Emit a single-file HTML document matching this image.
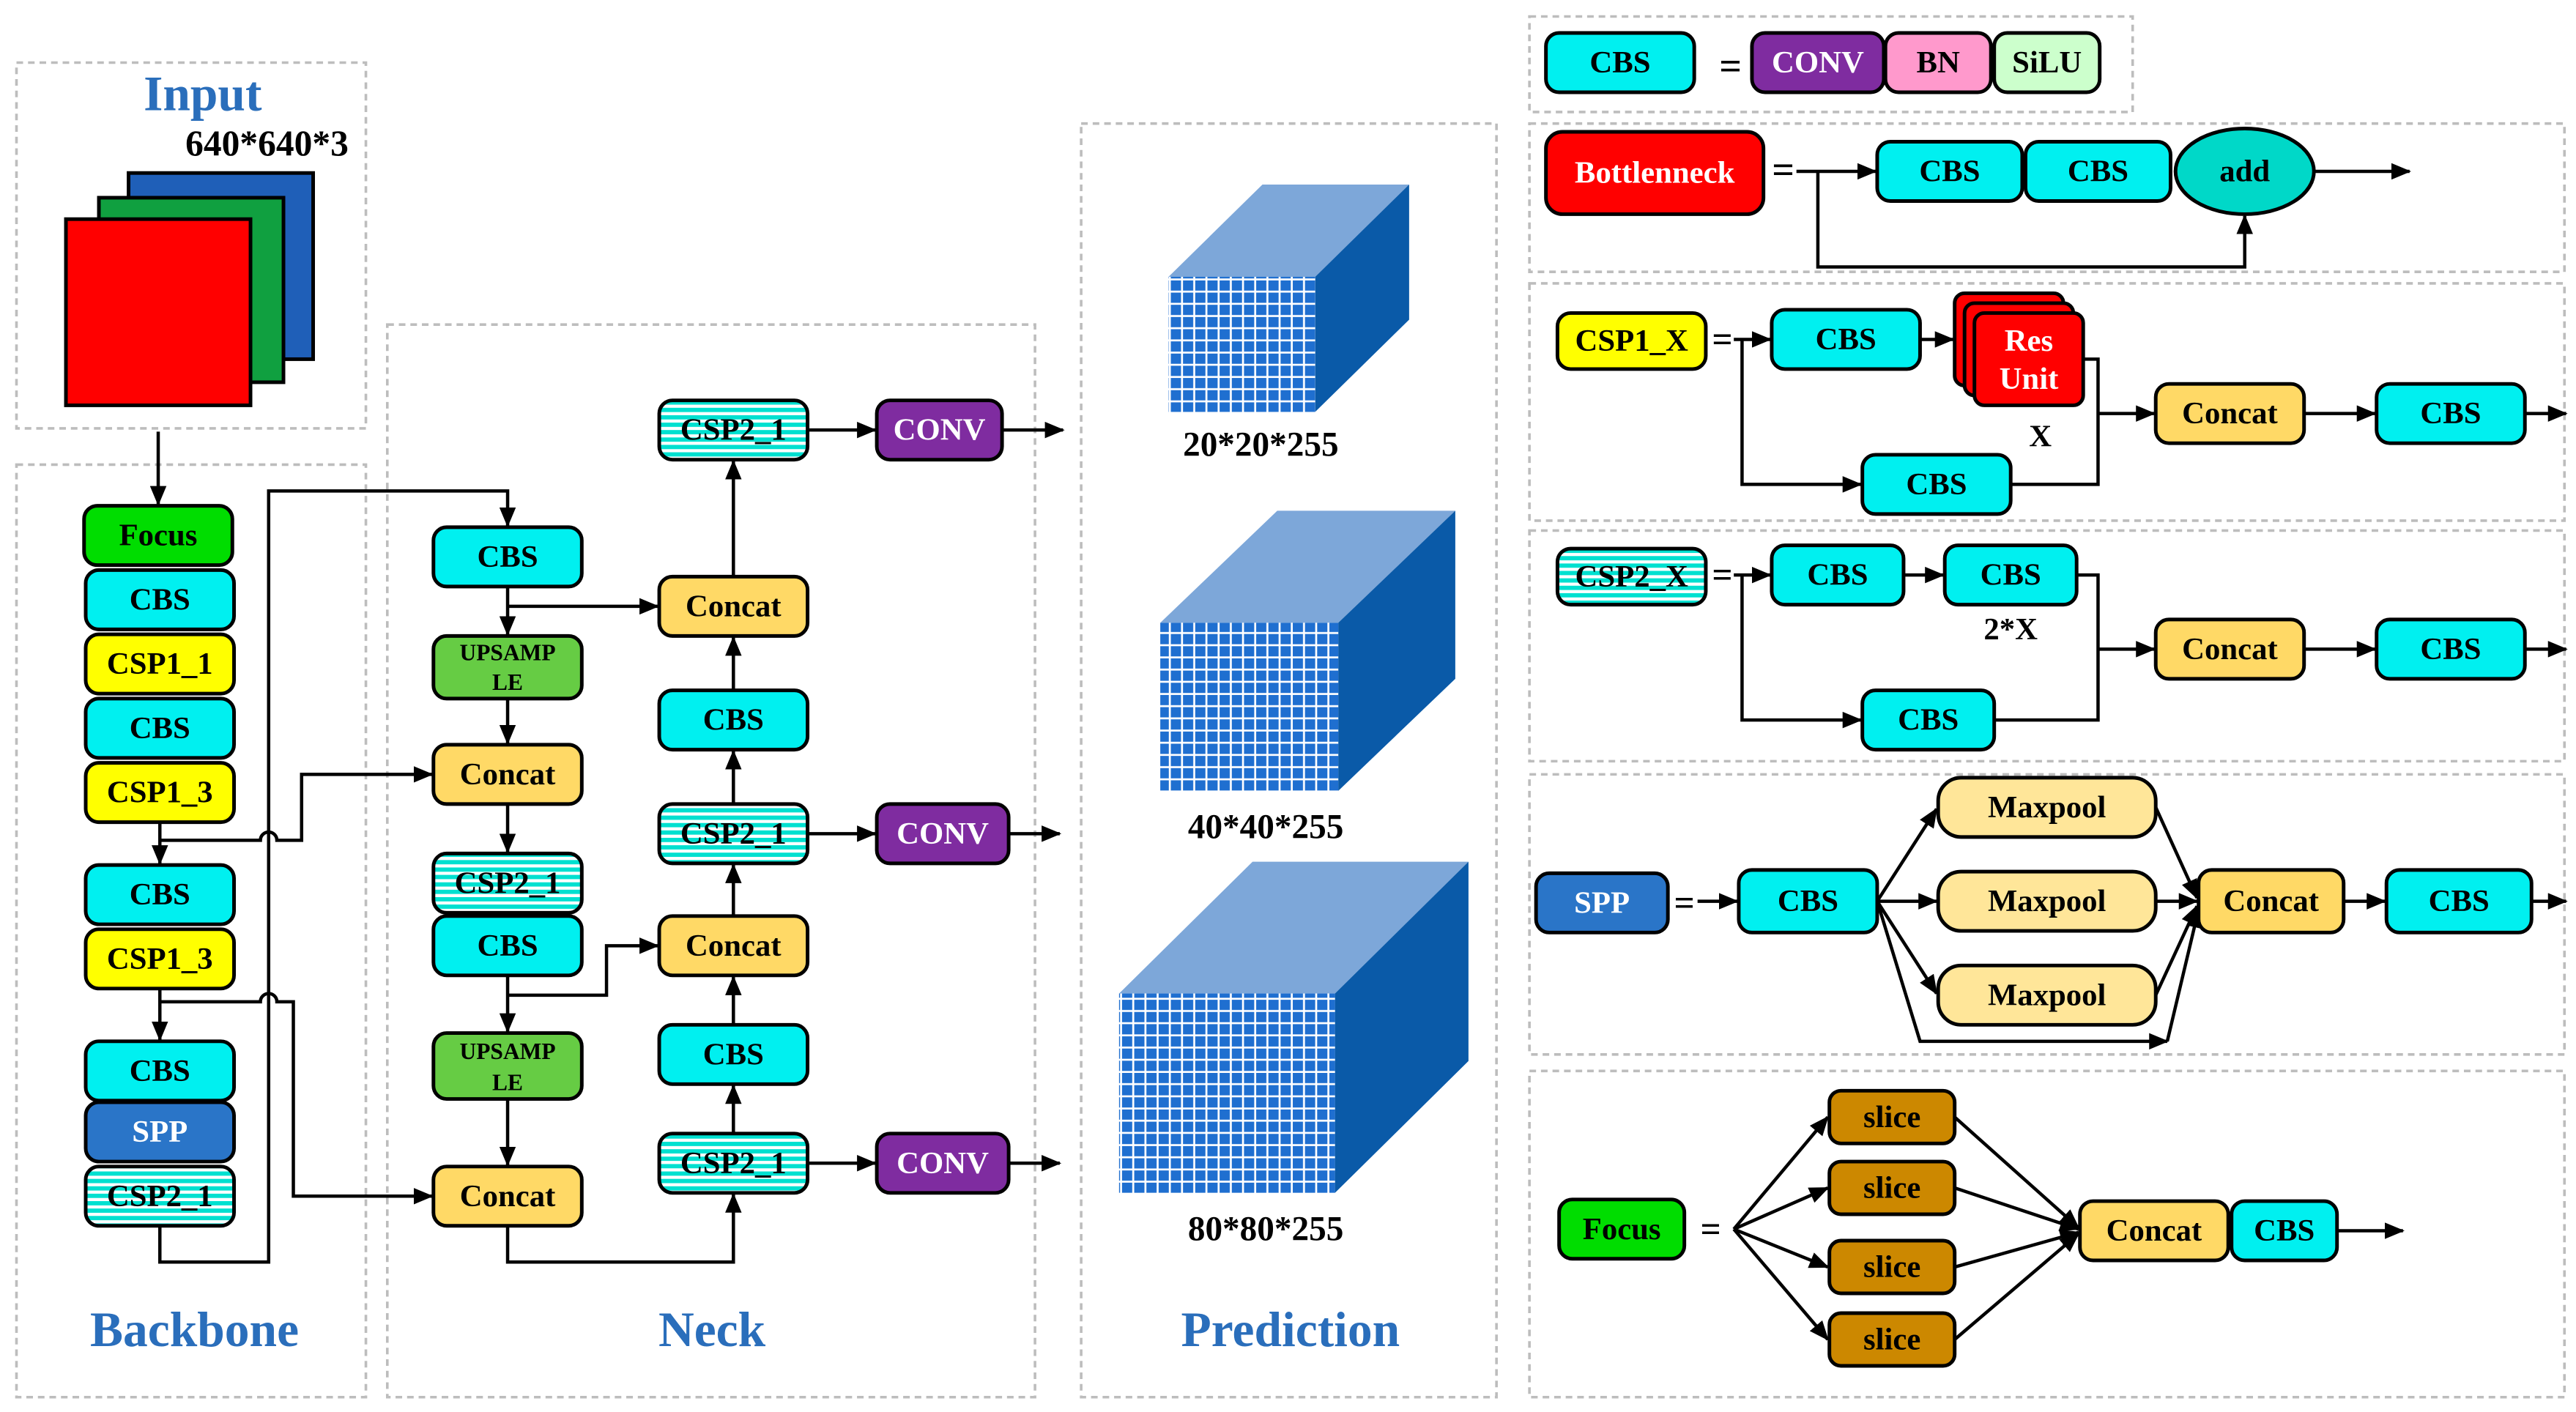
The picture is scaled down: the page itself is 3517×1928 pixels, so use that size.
<!DOCTYPE html>
<html><head><meta charset="utf-8"><style>
html,body{margin:0;padding:0;background:#fff}
svg{display:block}
text{font-family:"Liberation Serif","Times New Roman","DejaVu Serif",serif;font-weight:bold;dominant-baseline:central;text-anchor:middle;font-size:19px}
.b{stroke:#000;stroke-width:2.2}
.d{fill:none;stroke:#bdbdbd;stroke-width:1.6;stroke-dasharray:4 3}
.l{fill:none;stroke:#000;stroke-width:2}
.t{fill:#2a6ebb;font-size:30px}
.c{font-size:21px}
</style></head><body>
<svg width="3517" height="1928" viewBox="0 0 1563 857" preserveAspectRatio="none" xmlns="http://www.w3.org/2000/svg">
<defs>
<marker id="a" markerWidth="12" markerHeight="10" refX="11" refY="5" orient="auto" markerUnits="userSpaceOnUse"><path d="M0,0 L12,5 L0,10z" fill="#000"/></marker>
<pattern id="s" width="10" height="4.5" patternUnits="userSpaceOnUse"><rect width="10" height="4.5" fill="#fff"/><rect width="10" height="2.6" fill="#00e0d0"/></pattern>
<pattern id="g1" width="7.4" height="7.4" patternUnits="userSpaceOnUse"><rect width="7.4" height="7.4" fill="#fff"/><rect width="6.2" height="6.2" fill="#1f6fd0"/></pattern>
</defs>
<rect class="d" x="10" y="38" width="212" height="222"/>
<rect class="d" x="10" y="282" width="212" height="566"/>
<rect class="d" x="235" y="197" width="393" height="651"/>
<rect class="d" x="656" y="75" width="252" height="773"/>
<rect class="d" x="928" y="10" width="366" height="58"/>
<rect class="d" x="928" y="75" width="628" height="90"/>
<rect class="d" x="928" y="172" width="628" height="144"/>
<rect class="d" x="928" y="322" width="628" height="140"/>
<rect class="d" x="928" y="470" width="628" height="170"/>
<rect class="d" x="928" y="650" width="628" height="198"/>

<text class="t" x="123" y="57">Input</text>
<text x="162" y="87" style="font-size:22px">640*640*3</text>
<rect class="b" x="78" y="105" width="112" height="113" fill="#1f5fb8"/>
<rect class="b" x="60" y="120" width="112" height="112" fill="#10a040"/>
<rect class="b" x="40" y="133" width="112" height="113" fill="#ff0000"/>
<path class="l" d="M96,262 V306" marker-end="url(#a)"/>

<g>
<rect class="b" x="51" y="307" width="90" height="36" rx="8" fill="#00dd00"/><text x="96" y="325">Focus</text>
<rect class="b" x="52" y="346" width="90" height="36" rx="8" fill="#00f0f0"/><text x="97" y="364">CBS</text>
<rect class="b" x="52" y="385" width="90" height="36" rx="8" fill="#ffff00"/><text x="97" y="403">CSP1_1</text>
<rect class="b" x="52" y="424" width="90" height="36" rx="8" fill="#00f0f0"/><text x="97" y="442">CBS</text>
<rect class="b" x="52" y="463" width="90" height="36" rx="8" fill="#ffff00"/><text x="97" y="481">CSP1_3</text>
<rect class="b" x="52" y="525" width="90" height="36" rx="8" fill="#00f0f0"/><text x="97" y="543">CBS</text>
<rect class="b" x="52" y="564" width="90" height="36" rx="8" fill="#ffff00"/><text x="97" y="582">CSP1_3</text>
<rect class="b" x="52" y="632" width="90" height="36" rx="8" fill="#00f0f0"/><text x="97" y="650">CBS</text>
<rect class="b" x="52" y="669" width="90" height="36" rx="8" fill="#2a75c8"/><text x="97" y="687" fill="#fff">SPP</text>
<rect class="b" x="52" y="708" width="90" height="36" rx="8" fill="url(#s)"/><text x="97" y="726">CSP2_1</text>
</g>
<path class="l" d="M97,499 V524" marker-end="url(#a)"/>
<path class="l" d="M97,600 V631" marker-end="url(#a)"/>
<path class="l" d="M97,744 V766 H163 V298 H308 V319" marker-end="url(#a)"/>
<path class="l" d="M97,510 H158 A5,5 0 0 1 168,510 H183 V470 H262" marker-end="url(#a)"/>
<path class="l" d="M97,608 H158 A5,5 0 0 1 168,608 H178 V726 H262" marker-end="url(#a)"/>
<text class="t" x="118" y="807">Backbone</text>

<rect class="b" x="263" y="320" width="90" height="36" rx="8" fill="#00f0f0"/><text x="308" y="338">CBS</text>
<rect class="b" x="263" y="386" width="90" height="38" rx="8" fill="#66cc44"/><text x="308" y="396" style="font-size:14px">UPSAMP</text><text x="308" y="414" style="font-size:14px">LE</text>
<rect class="b" x="263" y="452" width="90" height="36" rx="8" fill="#ffd966"/><text x="308" y="470">Concat</text>
<rect class="b" x="263" y="518" width="90" height="36" rx="8" fill="url(#s)"/><text x="308" y="536">CSP2_1</text>
<rect class="b" x="263" y="556" width="90" height="36" rx="8" fill="#00f0f0"/><text x="308" y="574">CBS</text>
<rect class="b" x="263" y="627" width="90" height="40" rx="8" fill="#66cc44"/><text x="308" y="638" style="font-size:14px">UPSAMP</text><text x="308" y="657" style="font-size:14px">LE</text>
<rect class="b" x="263" y="708" width="90" height="36" rx="8" fill="#ffd966"/><text x="308" y="726">Concat</text>
<path class="l" d="M308,356 V385" marker-end="url(#a)"/>
<path class="l" d="M308,368 H399" marker-end="url(#a)"/>
<path class="l" d="M308,424 V451" marker-end="url(#a)"/>
<path class="l" d="M308,488 V517" marker-end="url(#a)"/>
<path class="l" d="M308,592 V626" marker-end="url(#a)"/>
<path class="l" d="M308,604 H368 V574 H399" marker-end="url(#a)"/>
<path class="l" d="M308,667 V707" marker-end="url(#a)"/>
<path class="l" d="M308,744 V766 H445 V725" marker-end="url(#a)"/>
<rect class="b" x="400" y="243" width="90" height="36" rx="8" fill="url(#s)"/><text x="445" y="261">CSP2_1</text>
<rect class="b" x="400" y="350" width="90" height="36" rx="8" fill="#ffd966"/><text x="445" y="368">Concat</text>
<rect class="b" x="400" y="419" width="90" height="36" rx="8" fill="#00f0f0"/><text x="445" y="437">CBS</text>
<rect class="b" x="400" y="488" width="90" height="36" rx="8" fill="url(#s)"/><text x="445" y="506">CSP2_1</text>
<rect class="b" x="400" y="556" width="90" height="36" rx="8" fill="#ffd966"/><text x="445" y="574">Concat</text>
<rect class="b" x="400" y="622" width="90" height="36" rx="8" fill="#00f0f0"/><text x="445" y="640">CBS</text>
<rect class="b" x="400" y="688" width="90" height="36" rx="8" fill="url(#s)"/><text x="445" y="706">CSP2_1</text>
<path class="l" d="M445,688 V659" marker-end="url(#a)"/>
<path class="l" d="M445,622 V593" marker-end="url(#a)"/>
<path class="l" d="M445,556 V525" marker-end="url(#a)"/>
<path class="l" d="M445,488 V456" marker-end="url(#a)"/>
<path class="l" d="M445,419 V387" marker-end="url(#a)"/>
<path class="l" d="M445,350 V280" marker-end="url(#a)"/>
<rect class="b" x="532" y="243" width="76" height="36" rx="8" fill="#7f2ca0"/><text x="570" y="261" fill="#fff">CONV</text>
<rect class="b" x="532" y="488" width="80" height="36" rx="8" fill="#7f2ca0"/><text x="572" y="506" fill="#fff">CONV</text>
<rect class="b" x="532" y="688" width="80" height="36" rx="8" fill="#7f2ca0"/><text x="572" y="706" fill="#fff">CONV</text>
<path class="l" d="M490,261 H531" marker-end="url(#a)"/>
<path class="l" d="M490,506 H531" marker-end="url(#a)"/>
<path class="l" d="M490,706 H531" marker-end="url(#a)"/>
<path class="l" d="M608,261 H645" marker-end="url(#a)"/>
<path class="l" d="M612,506 H643" marker-end="url(#a)"/>
<path class="l" d="M612,706 H643" marker-end="url(#a)"/>
<text class="t" x="432" y="807">Neck</text>

<polygon points="709,168 766,112 855,112 798,168" fill="#7da7d9"/>
<polygon points="798,168 855,112 855,194 798,250" fill="#0a5aa8"/>
<rect x="709" y="168" width="89" height="82" fill="url(#g1)"/>
<text class="c" x="765" y="270">20*20*255</text>
<polygon points="704,378 775,310 883,310 812,378" fill="#7da7d9"/>
<polygon points="812,378 883,310 883,412 812,480" fill="#0a5aa8"/>
<rect x="704" y="378" width="108" height="102" fill="url(#g1)"/>
<text class="c" x="768" y="502">40*40*255</text>
<polygon points="679,603 760,523 891,523 810,603" fill="#7da7d9"/>
<polygon points="810,603 891,523 891,644 810,724" fill="#0a5aa8"/>
<rect x="679" y="603" width="131" height="121" fill="url(#g1)"/>
<text class="c" x="768" y="746">80*80*255</text>
<text class="t" x="783" y="807">Prediction</text>

<rect class="b" x="938" y="20" width="90" height="36" rx="8" fill="#00f0f0"/><text x="983" y="38">CBS</text>
<text x="1050" y="40" style="font-size:24px">=</text>
<rect class="b" x="1063" y="20" width="80" height="36" rx="8" fill="#7f2ca0"/><text x="1103" y="38" fill="#fff">CONV</text>
<rect class="b" x="1144" y="20" width="64" height="36" rx="8" fill="#ff99cc"/><text x="1176" y="38">BN</text>
<rect class="b" x="1210" y="20" width="64" height="36" rx="8" fill="#ccffcc"/><text x="1242" y="38">SiLU</text>

<rect class="b" x="938" y="80" width="132" height="50" rx="10" fill="#ff0000"/><text x="1004" y="105" fill="#fff">Bottlenneck</text>
<text x="1082" y="103" style="font-size:24px">=</text>
<path class="l" d="M1090,104 H1138" marker-end="url(#a)"/>
<path class="l" d="M1103,104 V162 H1362 V131" marker-end="url(#a)"/>
<rect class="b" x="1139" y="86" width="88" height="36" rx="8" fill="#00f0f0"/><text x="1183" y="104">CBS</text>
<rect class="b" x="1229" y="86" width="88" height="36" rx="8" fill="#00f0f0"/><text x="1273" y="104">CBS</text>
<ellipse class="b" cx="1362" cy="104" rx="42" ry="26" fill="#00d8c8"/><text x="1362" y="104">add</text>
<path class="l" d="M1404,104 H1462" marker-end="url(#a)"/>

<rect class="b" x="945" y="190" width="90" height="34" rx="8" fill="#ffff00"/><text x="990" y="207">CSP1_X</text>
<text x="1045" y="206" style="font-size:22px">=</text>
<path class="l" d="M1052,206 H1074" marker-end="url(#a)"/>
<path class="l" d="M1057,206 V294 H1129" marker-end="url(#a)"/>
<rect class="b" x="1075" y="188" width="90" height="36" rx="8" fill="#00f0f0"/><text x="1120" y="206">CBS</text>
<path class="l" d="M1165,206 H1185" marker-end="url(#a)"/>
<rect class="b" x="1186" y="178" width="66" height="56" rx="6" fill="#ff0000"/>
<rect class="b" x="1192" y="184" width="66" height="56" rx="6" fill="#ff0000"/>
<rect class="b" x="1198" y="190" width="66" height="56" rx="6" fill="#ff0000"/>
<text x="1231" y="207" fill="#fff">Res</text><text x="1231" y="230" fill="#fff">Unit</text>
<text x="1238" y="265">X</text>
<rect class="b" x="1130" y="276" width="90" height="36" rx="8" fill="#00f0f0"/><text x="1175" y="294">CBS</text>
<path class="l" d="M1264,218 H1273 V294 H1220"/>
<path class="l" d="M1273,251 H1307" marker-end="url(#a)"/>
<rect class="b" x="1308" y="233" width="90" height="36" rx="8" fill="#ffd966"/><text x="1353" y="251">Concat</text>
<path class="l" d="M1398,251 H1441" marker-end="url(#a)"/>
<rect class="b" x="1442" y="233" width="90" height="36" rx="8" fill="#00f0f0"/><text x="1487" y="251">CBS</text>
<path class="l" d="M1532,251 H1557" marker-end="url(#a)"/>

<rect class="b" x="945" y="333" width="90" height="34" rx="8" fill="url(#s)"/><text x="990" y="350">CSP2_X</text>
<text x="1045" y="349" style="font-size:22px">=</text>
<path class="l" d="M1052,349 H1074" marker-end="url(#a)"/>
<path class="l" d="M1057,349 V437 H1129" marker-end="url(#a)"/>
<rect class="b" x="1075" y="331" width="80" height="36" rx="8" fill="#00f0f0"/><text x="1115" y="349">CBS</text>
<path class="l" d="M1155,349 H1179" marker-end="url(#a)"/>
<rect class="b" x="1180" y="331" width="80" height="36" rx="8" fill="#00f0f0"/><text x="1220" y="349">CBS</text>
<text x="1220" y="382">2*X</text>
<rect class="b" x="1130" y="419" width="80" height="36" rx="8" fill="#00f0f0"/><text x="1170" y="437">CBS</text>
<path class="l" d="M1260,349 H1273 V437 H1210"/>
<path class="l" d="M1273,394 H1307" marker-end="url(#a)"/>
<rect class="b" x="1308" y="376" width="90" height="36" rx="8" fill="#ffd966"/><text x="1353" y="394">Concat</text>
<path class="l" d="M1398,394 H1441" marker-end="url(#a)"/>
<rect class="b" x="1442" y="376" width="90" height="36" rx="8" fill="#00f0f0"/><text x="1487" y="394">CBS</text>
<path class="l" d="M1532,394 H1557" marker-end="url(#a)"/>

<rect class="b" x="932" y="530" width="80" height="36" rx="8" fill="#2a75c8"/><text x="972" y="548" fill="#fff">SPP</text>
<text x="1022" y="548" style="font-size:22px">=</text>
<path class="l" d="M1030,547 H1054" marker-end="url(#a)"/>
<rect class="b" x="1055" y="528" width="84" height="38" rx="8" fill="#00f0f0"/><text x="1097" y="547">CBS</text>
<rect class="b" x="1176" y="472" width="132" height="36" rx="14" fill="#ffe699"/><text x="1242" y="490">Maxpool</text>
<rect class="b" x="1176" y="529" width="132" height="36" rx="14" fill="#ffe699"/><text x="1242" y="547">Maxpool</text>
<rect class="b" x="1176" y="586" width="132" height="36" rx="14" fill="#ffe699"/><text x="1242" y="604">Maxpool</text>
<path class="l" d="M1139,547 L1175,491" marker-end="url(#a)"/>
<path class="l" d="M1139,547 H1175" marker-end="url(#a)"/>
<path class="l" d="M1139,547 L1175,603" marker-end="url(#a)"/>
<path class="l" d="M1139,547 L1165,632 H1315" marker-end="url(#a)"/>
<path class="l" d="M1308,490 L1333,545" marker-end="url(#a)"/>
<path class="l" d="M1308,547 H1333" marker-end="url(#a)"/>
<path class="l" d="M1308,604 L1333,550" marker-end="url(#a)"/>
<path class="l" d="M1315,632 L1334,552" marker-end="url(#a)"/>
<rect class="b" x="1334" y="528" width="88" height="38" rx="8" fill="#ffd966"/><text x="1378" y="547">Concat</text>
<path class="l" d="M1422,547 H1447" marker-end="url(#a)"/>
<rect class="b" x="1448" y="528" width="88" height="38" rx="8" fill="#00f0f0"/><text x="1492" y="547">CBS</text>
<path class="l" d="M1536,547 H1557" marker-end="url(#a)"/>

<rect class="b" x="946" y="728" width="76" height="36" rx="8" fill="#00dd00"/><text x="984" y="746">Focus</text>
<text x="1038" y="746" style="font-size:22px">=</text>
<path class="l" d="M1052,746 L1109,678" marker-end="url(#a)"/>
<path class="l" d="M1052,746 L1109,721" marker-end="url(#a)"/>
<path class="l" d="M1052,746 L1109,769" marker-end="url(#a)"/>
<path class="l" d="M1052,746 L1109,813" marker-end="url(#a)"/>
<rect class="b" x="1110" y="662" width="76" height="32" rx="7" fill="#cc8800"/><text x="1148" y="678">slice</text>
<rect class="b" x="1110" y="705" width="76" height="32" rx="7" fill="#cc8800"/><text x="1148" y="721">slice</text>
<rect class="b" x="1110" y="753" width="76" height="32" rx="7" fill="#cc8800"/><text x="1148" y="769">slice</text>
<rect class="b" x="1110" y="797" width="76" height="32" rx="7" fill="#cc8800"/><text x="1148" y="813">slice</text>
<path class="l" d="M1186,678 L1261,745" marker-end="url(#a)"/>
<path class="l" d="M1186,721 L1261,746" marker-end="url(#a)"/>
<path class="l" d="M1186,769 L1261,748" marker-end="url(#a)"/>
<path class="l" d="M1186,813 L1261,749" marker-end="url(#a)"/>
<rect class="b" x="1262" y="729" width="90" height="36" rx="8" fill="#ffd966"/><text x="1307" y="747">Concat</text>
<rect class="b" x="1354" y="729" width="64" height="36" rx="8" fill="#00f0f0"/><text x="1386" y="747">CBS</text>
<path class="l" d="M1418,747 H1458" marker-end="url(#a)"/>
</svg>
</body></html>
